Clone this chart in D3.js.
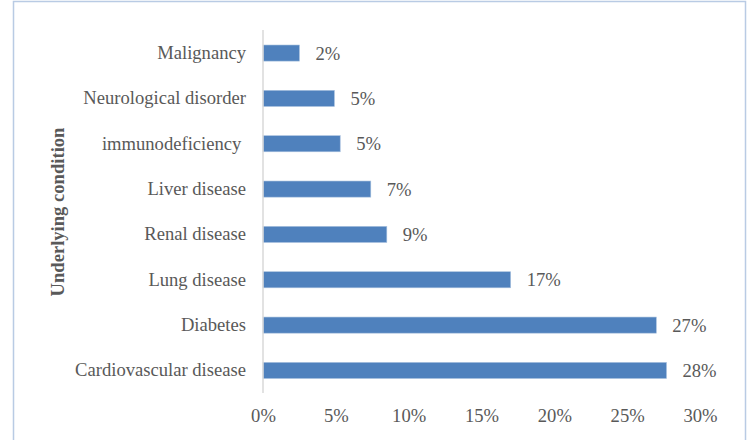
<!DOCTYPE html>
<html lang="en">
<head>
  <title>Underlying condition</title>
  <script type="text/javascript" src="https://cdnjs.cloudflare.com/ajax/libs/d3/7.8.5/d3.min.js"></script>
  <style>
    body { margin: 0; background: #fff; }
    text { font-family: "Liberation Serif", "Times New Roman", serif; fill: #595959; }
  </style>
</head>
<body>
  <script type="text/javascript">
    var width = 748;
    var height = 440;
    var fontSize = "18.6px";
    var serif = "'Liberation Serif', 'Times New Roman', serif";

    var categories = ["Malignancy", "Neurological disorder", "immunodeficiency ", "Liver disease",
      "Renal disease", "Lung disease", "Diabetes", "Cardiovascular disease"];
    var values = [2.5, 4.9, 5.3, 7.4, 8.5, 17.0, 27.0, 27.7];
    var valueLabels = ["2%", "5%", "5%", "7%", "9%", "17%", "27%", "28%"];
    var xTicks = [0, 5, 10, 15, 20, 25, 30];

    var svg = d3.select("body").append("svg")
      .attr("width", width)
      .attr("height", height);

    // chart border
    svg.append("rect")
      .attr("x", 13.5).attr("y", 1.5)
      .attr("width", 732).attr("height", 440)
      .attr("fill", "none")
      .attr("stroke", "#b9cbe4")
      .attr("stroke-width", 1.5);

    var x = d3.scaleLinear().domain([0, 30]).range([263, 700]);
    var y = d3.scaleBand().domain(categories).range([30.5, 393]).paddingInner(0.645).paddingOuter(0.32);

    // bars
    svg.selectAll("rect.bar")
      .data(values)
      .enter()
      .append("rect")
      .attr("class", "bar")
      .attr("x", x(0))
      .attr("y", function (d, i) { return y(categories[i]); })
      .attr("width", function (d) { return x(d) - x(0); })
      .attr("height", y.bandwidth())
      .attr("fill", "#4f81bd")
      .attr("stroke", "#a7c0de")
      .attr("stroke-width", 0.6);

    // value labels
    svg.selectAll("text.val")
      .data(values)
      .enter()
      .append("text")
      .attr("class", "val")
      .attr("x", function (d) { return x(d) + 16; })
      .attr("y", function (d, i) { return y(categories[i]) + y.bandwidth() / 2; })
      .attr("dy", "0.35em")
      .style("font-size", fontSize)
      .text(function (d, i) { return valueLabels[i]; });

    // vertical axis line
    svg.append("line")
      .attr("x1", x(0)).attr("x2", x(0))
      .attr("y1", 30).attr("y2", 393)
      .attr("stroke", "#d9d9d9")
      .attr("stroke-width", 1.5);

    // category labels (keep trailing space like the original)
    var yAxis = svg.append("g")
      .attr("transform", "translate(" + x(0) + ",0)")
      .call(d3.axisLeft(y).tickSize(0).tickPadding(17));
    yAxis.select(".domain").remove();
    yAxis.selectAll("text")
      .style("font-family", serif)
      .style("font-size", fontSize)
      .style("white-space", "pre")
      .attr("fill", "#595959");

    // x axis labels
    var xAxis = svg.append("g")
      .attr("transform", "translate(0,393)")
      .call(d3.axisBottom(x).tickValues(xTicks).tickSize(0).tickPadding(16)
        .tickFormat(function (d) { return d + "%"; }));
    xAxis.select(".domain").remove();
    xAxis.selectAll("text")
      .style("font-family", serif)
      .style("font-size", fontSize)
      .attr("fill", "#595959");

    // y title
    svg.append("text")
      .attr("transform", "translate(64,212) rotate(-90)")
      .attr("text-anchor", "middle")
      .style("font-size", fontSize)
      .style("font-weight", "bold")
      .text("Underlying condition");
  </script>
</body>
</html>
